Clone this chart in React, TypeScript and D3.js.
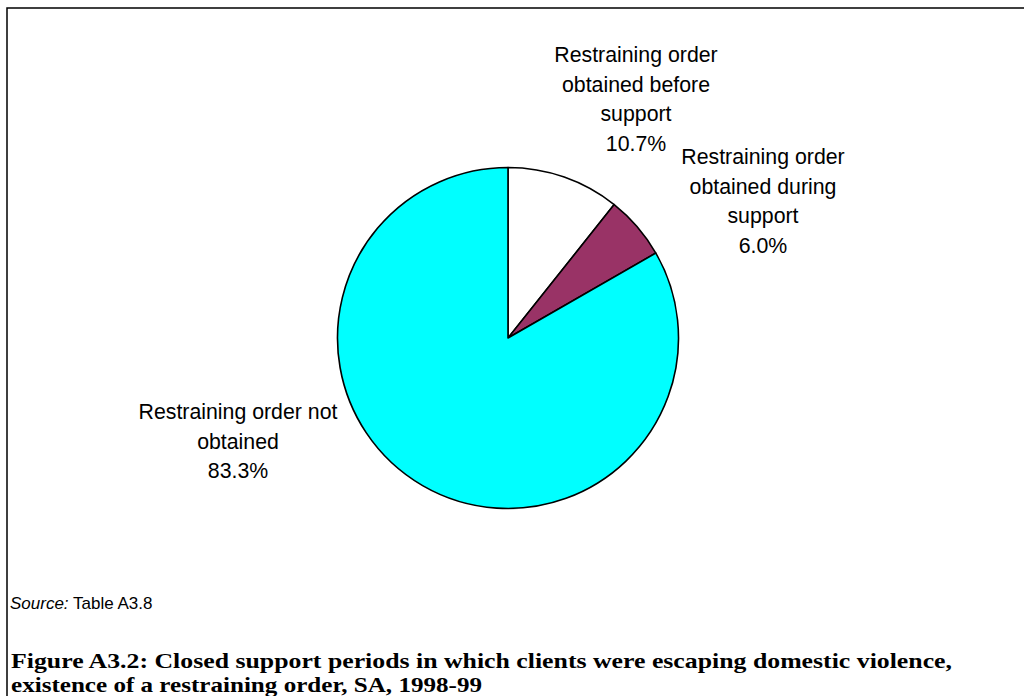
import React from "react";
import * as d3 from "d3";

const categories = [
  "Restraining order obtained before support",
  "Restraining order obtained during support",
  "Restraining order not obtained",
];
const values = [10.7, 6.0, 83.3];
const colors = ["#FFFFFF", "#993366", "#00FFFF"];
const labelLines = [
  ["Restraining order", "obtained before", "support", "10.7%"],
  ["Restraining order", "obtained during", "support", "6.0%"],
  ["Restraining order not", "obtained", "83.3%"],
];
const labelAnchors = [
  [636, 55],
  [763, 157],
  [238, 412],
];
const sourceText = "Table A3.8";
const captionLines = [
  "Figure A3.2: Closed support periods in which clients were escaping domestic violence,",
  "existence of a restraining order, SA, 1998-99",
];

export default function App() {
  const W = 1024;
  const H = 696;
  const cx = 508;
  const cy = 338;
  const r = 170.5;
  const pie = d3
    .pie<number>()
    .sort(null)
    .startAngle(0)
    .endAngle(2 * Math.PI)
    .value((d) => d);
  const arcs = pie(values);
  const arc = d3.arc<d3.PieArcDatum<number>>().innerRadius(0).outerRadius(r);
  const lineH = 29.5;
  return (
    <svg
      width={W}
      height={H}
      style={{ position: "absolute", left: 0, top: 0, display: "block", background: "#fff" }}
    >
      <rect x={0} y={0} width={W} height={H} fill="#fff" />
      <path d={`M7,${H + 2} L7,8 L${W + 2},8`} fill="none" stroke="#000" strokeWidth={1.5} />
      <g transform={`translate(${cx},${cy})`}>
        {arcs.map((a, i) => (
          <path key={categories[i]} d={arc(a) || ""} fill={colors[i]} stroke="#000" strokeWidth={1.6} strokeLinejoin="round" />
        ))}
      </g>
      {labelLines.map((lines, i) => (
        <text
          key={i}
          x={labelAnchors[i][0]}
          y={labelAnchors[i][1]}
          fontFamily="'Liberation Sans', Arial, sans-serif"
          fontSize={21.3}
          fill="#000"
          textAnchor="middle"
        >
          {lines.map((l, j) => (
            <tspan key={j} x={labelAnchors[i][0]} y={labelAnchors[i][1] + j * lineH} dy="0.35em">
              {l}
            </tspan>
          ))}
        </text>
      ))}
      <text x={10} y={609} fontFamily="'Liberation Sans', Arial, sans-serif" fontSize={17} fill="#000">
        <tspan fontStyle="italic">Source:</tspan>
        <tspan> {sourceText}</tspan>
      </text>
      {captionLines.map((l, i) => (
        <text
          key={i}
          x={11}
          y={668 + i * 24}
          fontFamily="'Liberation Serif', 'Times New Roman', serif"
          fontWeight="bold"
          fontSize={22}
          fill="#000"
          textLength={i === 0 ? 941 : 471}
          lengthAdjust="spacingAndGlyphs"
        >
          {l}
        </text>
      ))}
    </svg>
  );
}
